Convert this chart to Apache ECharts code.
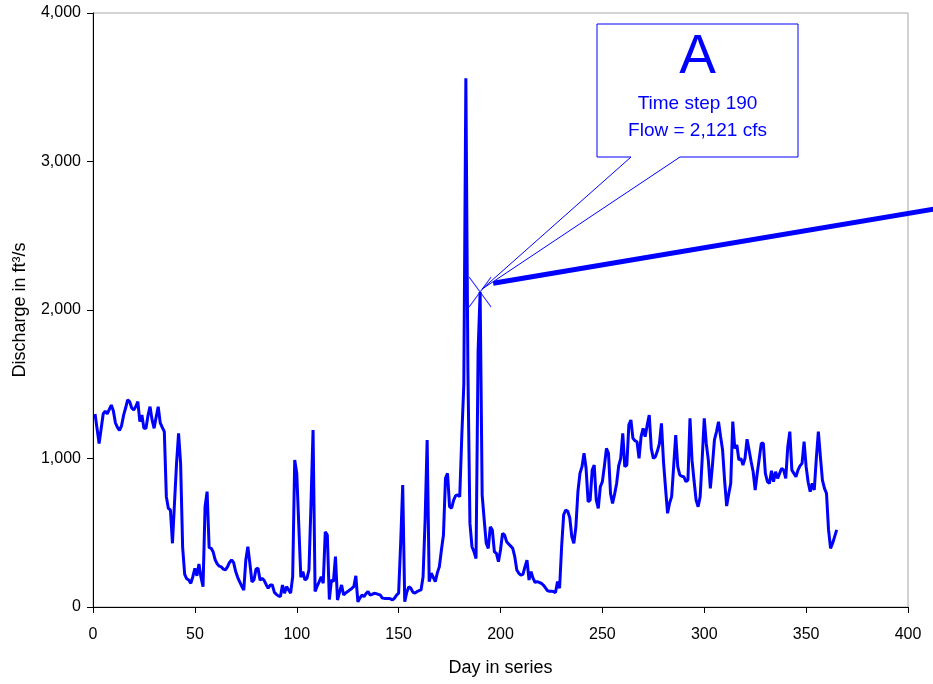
<!DOCTYPE html>
<html lang="en">
<head>
	<meta charset="UTF-8">
	<title>Discharge</title>
	<script src="https://cdn.jsdelivr.net/npm/echarts@6/dist/echarts.min.js"></script>
	<style>
		html, body { margin: 0; padding: 0; background: #fff; }
	</style>
</head>
<body>
	<div id="chart" style="width:933px; height:684px;"></div>
	<script>
	// daily discharge, ft3/s, day 1 .. 365
	var flow = [
		1300,1200,1100,1200,1300,1320,1300,1330,1360,1320,
		1240,1210,1190,1220,1290,1340,1394,1383,1340,1327,
		1350,1383,1248,1293,1203,1203,1290,1349,1260,1203,
		1280,1349,1240,1210,1181,743,664,653,429,700,
		967,1170,967,400,220,190,182,159,204,260,
		210,290,200,137,675,777,400,395,370,316,
		290,275,270,255,250,270,300,316,300,240,
		200,170,140,114,316,406,294,170,182,255,
		261,180,193,180,150,126,148,148,100,85,
		75,70,148,93,137,115,93,204,990,900,
		550,200,238,182,193,250,700,1192,104,140,
		170,204,160,507,485,50,182,171,339,47,
		100,148,81,95,104,115,125,137,210,35,
		60,81,70,90,104,81,85,93,90,85,
		81,60,58,58,58,55,47,60,80,93,
		429,822,35,100,137,126,100,93,104,110,
		115,204,586,1125,171,227,200,171,230,272,
		384,485,867,900,676,665,720,750,755,743,
		1150,1500,3560,1600,563,406,372,327,1720,2121,
		754,586,429,395,540,518,372,361,305,384,
		496,485,440,425,410,395,339,249,227,215,
		220,270,316,182,238,193,165,171,165,160,
		148,130,110,106,106,104,97,171,126,406,
		620,653,645,600,473,429,540,777,900,945,
		1035,934,709,720,922,956,720,664,810,844,
		950,1068,1035,765,697,760,832,950,1001,1170,
		945,956,1226,1259,1136,1120,1113,1001,1147,1203,
		1147,1226,1293,1068,1001,1012,1050,1100,1237,978,
		800,631,700,743,950,1158,945,889,880,877,
		844,855,1270,989,850,720,675,743,1000,1270,
		1100,989,799,950,1125,1180,1248,1150,1057,850,
		680,760,832,1248,1068,1091,989,1001,956,1001,
		1130,1057,980,911,788,900,1000,1102,1102,900,
		844,832,917,844,911,866,900,934,922,866,
		1080,1181,922,900,877,922,950,967,1113,945,
		840,777,832,788,1000,1181,1012,855,799,765,
		519,395,429,474,519
	];
	var firstDay = 1;

	// marked point (callout A)
	var markDay = 190;
	var markFlow = 2121;

	// thick straight line that leaves the plot on the right
	var leaderX = [196.4, 425];
	var leaderY = [2180, 2708];

	var xTicks = [0, 400, 50];      // min, max, interval
	var yTicks = [0, 4000, 1000];

	var BLUE = '#0000ff';
	var FONT = '"Liberation Sans", Arial, sans-serif';

	var lineData = flow.map(function (v, i) { return [firstDay + i, v]; });

	function fmt(v) {
		return String(v).replace(/\B(?=(\d{3})+(?!\d))/g, ',');
	}

	var myChart = echarts.init(document.getElementById('chart'), null, {renderer: 'canvas'});

	var option = {
		backgroundColor: '#fff',
		animation: false,
		textStyle: { fontFamily: FONT },
		grid: {
			left: 93, right: 25, top: 13, bottom: 77,
			show: true,
			borderColor: '#a6a6a6',
			borderWidth: 1
		},
		xAxis: {
			type: 'value',
			min: xTicks[0], max: xTicks[1], interval: xTicks[2],
			name: 'Day in series',
			nameLocation: 'middle',
			nameGap: 52,
			nameTextStyle: { fontSize: 18, color: '#000', fontFamily: FONT },
			axisLine: { lineStyle: { color: '#000', width: 1 } },
			axisTick: { show: true, inside: false, length: 6, lineStyle: { color: '#000' } },
			axisLabel: { fontSize: 16, color: '#000', margin: 20, fontFamily: FONT },
			splitLine: { show: false }
		},
		yAxis: {
			type: 'value',
			min: yTicks[0], max: yTicks[1], interval: yTicks[2],
			name: 'Discharge in ft³/s',
			nameLocation: 'middle',
			nameGap: 64,
			nameRotate: 90,
			nameTextStyle: { fontSize: 18, color: '#000', fontFamily: FONT },
			axisLine: { show: true, lineStyle: { color: '#000', width: 1 } },
			axisTick: { show: true, inside: false, length: 6, lineStyle: { color: '#000' } },
			axisLabel: { fontSize: 16, color: '#000', margin: 12, fontFamily: FONT, formatter: fmt },
			splitLine: { show: false }
		},
		series: [
			{
				name: 'Discharge',
				type: 'line',
				data: lineData,
				showSymbol: false,
				lineStyle: { color: BLUE, width: 3 },
				z: 2
			},
			{
				name: 'mark',
				type: 'scatter',
				data: [[markDay, markFlow]],
				symbol: 'path://M0,0L22,30M22,0L0,30',
				symbolSize: [22, 30],
				itemStyle: { color: 'transparent', borderColor: BLUE, borderWidth: 1 },
				z: 4
			}
		]
	};

	myChart.setOption(option);

	// pixel positions through the chart's own scales
	var tip = myChart.convertToPixel({gridIndex: 0}, [markDay, markFlow]);
	var lead0 = myChart.convertToPixel({gridIndex: 0}, [leaderX[0], leaderY[0]]);
	var lead1 = myChart.convertToPixel({gridIndex: 0}, [leaderX[1], leaderY[1]]);

	var bx0 = 597, by0 = 24, bx1 = 798, by1 = 157;
	var w0 = 631, w1 = 680;
	var cx = (bx0 + bx1) / 2;

	myChart.setOption({
		graphic: [
			{
				type: 'line',
				z: 50,
				shape: { x1: lead0[0], y1: lead0[1], x2: lead1[0], y2: lead1[1] },
				style: { stroke: BLUE, lineWidth: 5 }
			},
			{
				type: 'polygon',
				z: 100,
				shape: {
					points: [[bx0, by0], [bx1, by0], [bx1, by1], [w1, by1],
						[tip[0] + 2, tip[1] - 3], [w0, by1], [bx0, by1]]
				},
				style: { fill: '#fff', stroke: BLUE, lineWidth: 1 }
			},
			{
				type: 'text', z: 101,
				x: cx, y: 58,
				style: {
					text: 'A', fill: BLUE, font: '55px ' + FONT,
					textAlign: 'center', textVerticalAlign: 'middle'
				}
			},
			{
				type: 'text', z: 101,
				x: cx, y: 104,
				style: {
					text: 'Time step 190', fill: BLUE, font: '19px ' + FONT,
					textAlign: 'center', textVerticalAlign: 'middle'
				}
			},
			{
				type: 'text', z: 101,
				x: cx, y: 131,
				style: {
					text: 'Flow = 2,121 cfs', fill: BLUE, font: '19px ' + FONT,
					textAlign: 'center', textVerticalAlign: 'middle'
				}
			}
		]
	});
	</script>
</body>
</html>
